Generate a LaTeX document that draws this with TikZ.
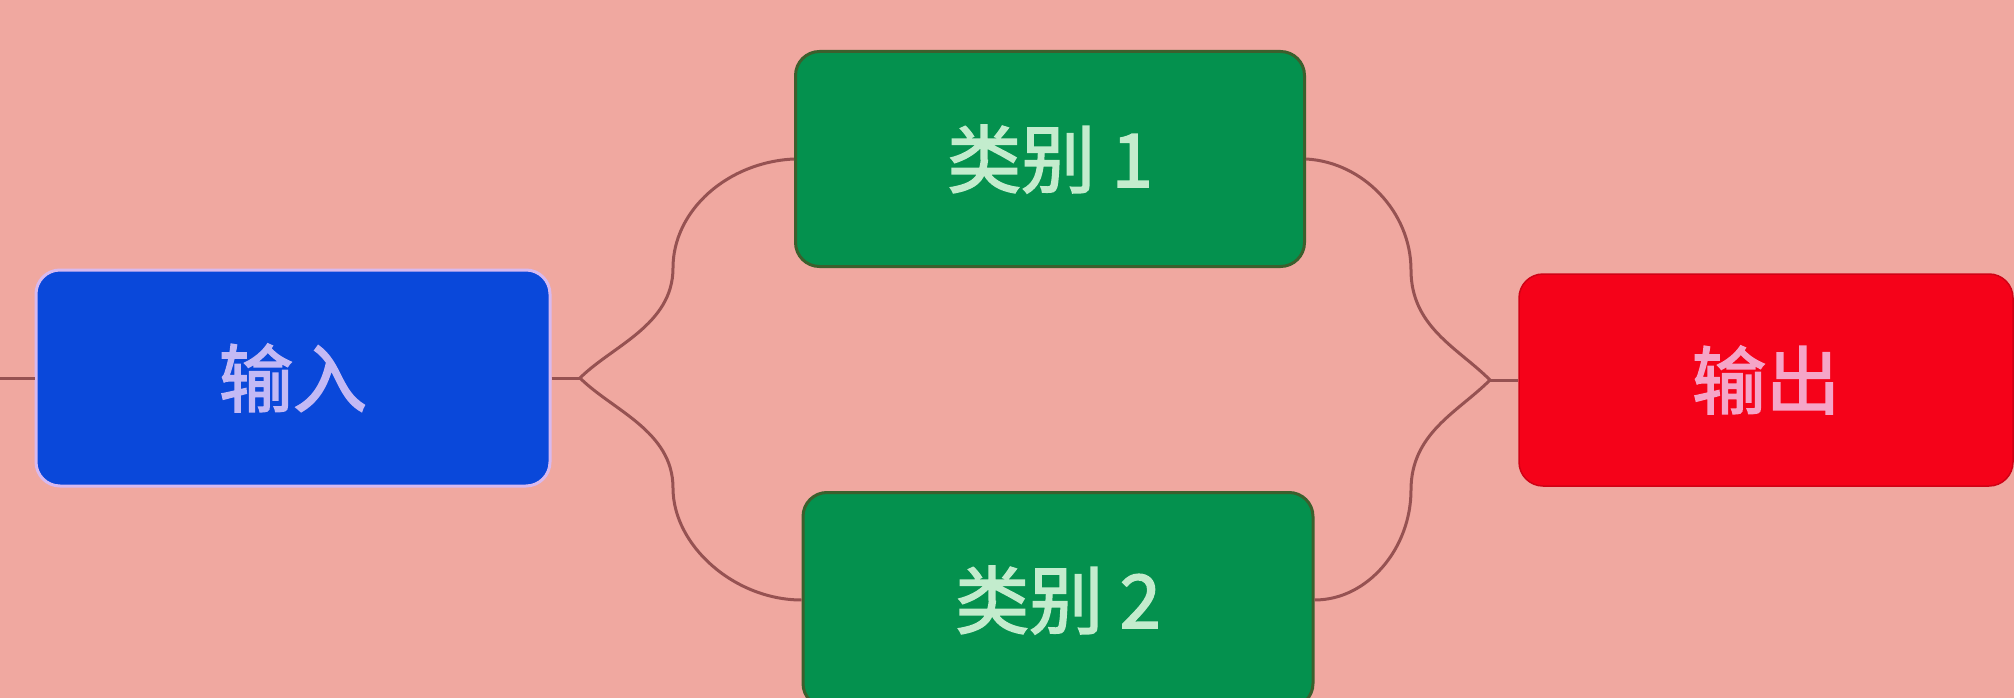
\documentclass[tikz,border=0pt]{standalone}
\usepackage{fontspec}
\newfontfamily\cjk{Noto Sans CJK SC}[RawFeature={embolden=2.2}]
\definecolor{bgc}{RGB}{240,168,160}
\definecolor{bluec}{RGB}{10,72,218}
\definecolor{blueedge}{RGB}{215,185,240}
\definecolor{bluetext}{RGB}{195,185,245}
\definecolor{greenc}{RGB}{4,145,78}
\definecolor{greenedge}{RGB}{60,95,45}
\definecolor{greentext}{RGB}{195,236,205}
\definecolor{redc}{RGB}{245,2,25}
\definecolor{redtext}{RGB}{245,165,200}
\definecolor{linec}{RGB}{150,82,82}
\tikzset{
  boxbase/.style={rectangle, rounded corners=24pt, inner sep=0pt,
    font=\cjk\fontsize{74}{82}\selectfont},
  bluebox/.style={boxbase, fill=bluec, draw=blueedge, line width=3pt, text=bluetext},
  greenbox/.style={boxbase, fill=greenc, draw=greenedge, line width=3pt, text=greentext},
  redbox/.style={boxbase, fill=redc, draw=redc!85!black, line width=1.5pt, text=redtext},
  conn/.style={draw=linec, line width=3pt}
}
\begin{document}
\begin{tikzpicture}[x=1pt,y=-1pt]
\useasboundingbox (0,0) rectangle (2014,698);
\clip (0,0) rectangle (2014,698);
\fill[bgc] (0,0) rectangle (2014,698);
\node[bluebox, minimum width=514pt, minimum height=216pt] (in) at (293,378) {输入};
\node[greenbox, minimum width=509pt, minimum height=215pt] (c1) at (1050,159) {类别 1};
\node[greenbox, minimum width=510pt, minimum height=215pt] (c2) at (1058,600) {类别 2};
\node[redbox, minimum width=494pt, minimum height=212pt] (out) at (1766,380) {输出};
\coordinate (lin) at (0,378);
\coordinate (jL) at (580,378);
\coordinate (jR) at (1490,380);
\coordinate (vL1) at (673,268);
\coordinate (vL2) at (673,488);
\coordinate (vR1) at (1411,270);
\coordinate (vR2) at (1411,490);
\draw[conn] (lin) -- (in.west);
\draw[conn] (in.east) -- (jL);
\draw[conn] (jL) .. controls (612,346) and (673,325) .. (vL1)
                 .. controls (673,210) and (728,162) .. (c1.west);
\draw[conn] (jL) .. controls (612,410) and (673,431) .. (vL2)
                 .. controls (673,546) and (735,600) .. (c2.west);
\draw[conn] (c1.east) .. controls (1363,162) and (1411,212) .. (vR1)
                 .. controls (1411,327) and (1458,348) .. (jR);
\draw[conn] (c2.east) .. controls (1368,600) and (1411,548) .. (vR2)
                 .. controls (1411,433) and (1458,412) .. (jR);
\draw[conn] (jR) -- (out.west);
\end{tikzpicture}
\end{document}
